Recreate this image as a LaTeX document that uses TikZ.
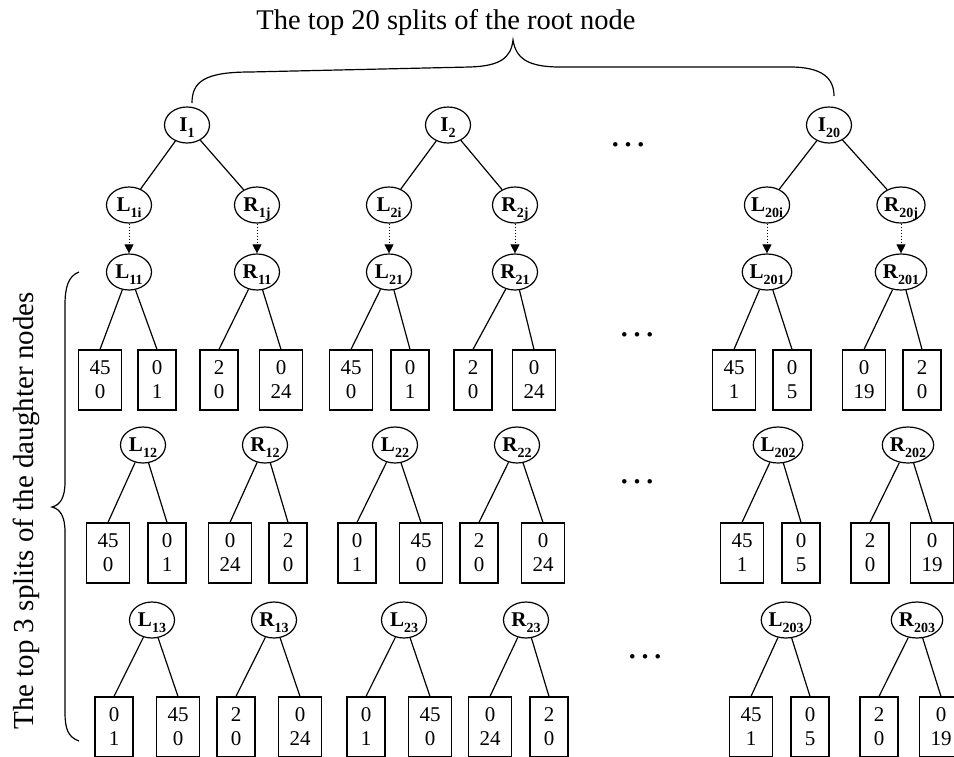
\documentclass[tikz,border=0pt]{standalone}
\usepackage{fontspec}
\setmainfont{Liberation Serif}
\usetikzlibrary{arrows.meta, shapes.geometric}
\newcommand{\splab}[2]{\textbf{#1}\raisebox{-6pt}[0pt][0pt]{\fontsize{14}{14}\selectfont\bfseries #2}}

\begin{document}
\begin{tikzpicture}[
    x=1pt, y=-1pt,
    line width=1.2pt,
    % Split nodes (ellipses)
    splitnode/.style={
      ellipse, draw, minimum width=45pt, minimum height=36pt,
      inner sep=0pt, font=\fontsize{21}{21}\selectfont
    },
    % Leaf boxes with class counts
    leafbox/.style={
      rectangle, draw, minimum width=38pt, minimum height=60pt,
      inner xsep=11pt, inner ysep=0pt, align=center,
      font=\fontsize{21}{24}\selectfont
    },
    % Dotted arrow from a daughter to its splits
    dotarr/.style={dotted, line width=1pt, -{Triangle[length=9pt, width=9pt]}},
    bigtext/.style={font=\fontsize{28.5}{32}\selectfont},
    dotsnode/.style={font=\fontsize{38}{38}\selectfont, inner sep=0pt}
  ]
  \useasboundingbox (0,0) rectangle (954,756);

  % ============ Root splits ============
  \node[bigtext] (title) at (446,22) {The top 20 splits of the root node};
  \node[splitnode] (I1) at (187,125) {\splab{I}{1}};
  \node[splitnode] (I2) at (448,125) {\splab{I}{2}};
  \node[splitnode] (I20) at (829,125) {\splab{I}{20}};
  \node[dotsnode] (dots0) at (628,145) {…};

  % brace over the root splits
  \draw (192,103) .. controls (192,82) and (204,72) .. (250,72)
    -- (470,67) .. controls (500,66) and (511,58) .. (513,40)
    .. controls (516,58) and (527,67) .. (560,67)
    -- (790,67) .. controls (822,67) and (834,78) .. (834,96);

  % ============ Daughter nodes ============
  \node[splitnode] (L1i) at (129,205) {\splab{L}{1i}};
  \node[splitnode] (R1i) at (257,205) {\splab{R}{1j}};
  \node[splitnode] (L2i) at (389,205) {\splab{L}{2i}};
  \node[splitnode] (R2i) at (515,205) {\splab{R}{2j}};
  \node[splitnode] (L20i) at (767,205) {\splab{L}{20i}};
  \node[splitnode] (R20i) at (901,205) {\splab{R}{20j}};
  \draw (I1) -- (L1i);  \draw (I1) -- (R1i);
  \draw (I2) -- (L2i);  \draw (I2) -- (R2i);
  \draw (I20) -- (L20i); \draw (I20) -- (R20i);

  % ============ First splits of the daughters ============
  \node[splitnode] (L11) at (129,272) {\splab{L}{11}};
  \node[splitnode] (R11) at (257,272) {\splab{R}{11}};
  \node[splitnode] (L21) at (389,272) {\splab{L}{21}};
  \node[splitnode] (R21) at (515,272) {\splab{R}{21}};
  \node[splitnode] (L201) at (767,272) {\splab{L}{201}};
  \node[splitnode] (R201) at (901,272) {\splab{R}{201}};
  \draw[dotarr] (L1i) -- (L11);
  \draw[dotarr] (R1i) -- (R11);
  \draw[dotarr] (L2i) -- (L21);
  \draw[dotarr] (R2i) -- (R21);
  \draw[dotarr] (L20i) -- (L201);
  \draw[dotarr] (R20i) -- (R201);

  \node[leafbox] (L11a) at (100,380) {45\\0};
  \node[leafbox] (L11b) at (157,380) {0\\1};
  \node[leafbox] (R11a) at (219,380) {2\\0};
  \node[leafbox] (R11b) at (281,380) {0\\24};
  \node[leafbox] (L21a) at (351,380) {45\\0};
  \node[leafbox] (L21b) at (410,380) {0\\1};
  \node[leafbox] (R21a) at (473,380) {2\\0};
  \node[leafbox] (R21b) at (534,380) {0\\24};
  \node[leafbox] (L201a) at (734,380) {45\\1};
  \node[leafbox] (L201b) at (792,380) {0\\5};
  \node[leafbox] (R201a) at (864,380) {0\\19};
  \node[leafbox] (R201b) at (922,380) {2\\0};
  \draw (L11) -- (L11a.north) (L11) -- (L11b.north);
  \draw (R11) -- (R11a.north) (R11) -- (R11b.north);
  \draw (L21) -- (L21a.north) (L21) -- (L21b.north);
  \draw (R21) -- (R21a.north) (R21) -- (R21b.north);
  \draw (L201) -- (L201a.north) (L201) -- (L201b.north);
  \draw (R201) -- (R201a.north) (R201) -- (R201b.north);
  \node[dotsnode] (dots1) at (637,335) {…};

  % ============ Second splits ============
  \node[splitnode] (L12) at (143,445) {\splab{L}{12}};
  \node[splitnode] (R12) at (265,445) {\splab{R}{12}};
  \node[splitnode] (L22) at (395,445) {\splab{L}{22}};
  \node[splitnode] (R22) at (517,445) {\splab{R}{22}};
  \node[splitnode] (L202) at (778,445) {\splab{L}{202}};
  \node[splitnode] (R202) at (908,445) {\splab{R}{202}};

  \node[leafbox] (L12a) at (108,553) {45\\0};
  \node[leafbox] (L12b) at (167,553) {0\\1};
  \node[leafbox] (R12a) at (230,553) {0\\24};
  \node[leafbox] (R12b) at (288,553) {2\\0};
  \node[leafbox] (L22a) at (357,553) {0\\1};
  \node[leafbox] (L22b) at (421,553) {45\\0};
  \node[leafbox] (R22a) at (479,553) {2\\0};
  \node[leafbox] (R22b) at (543,553) {0\\24};
  \node[leafbox] (L202a) at (742,553) {45\\1};
  \node[leafbox] (L202b) at (801,553) {0\\5};
  \node[leafbox] (R202a) at (870,553) {2\\0};
  \node[leafbox] (R202b) at (932,553) {0\\19};
  \draw (L12) -- (L12a.north) (L12) -- (L12b.north);
  \draw (R12) -- (R12a.north) (R12) -- (R12b.north);
  \draw (L22) -- (L22a.north) (L22) -- (L22b.north);
  \draw (R22) -- (R22a.north) (R22) -- (R22b.north);
  \draw (L202) -- (L202a.north) (L202) -- (L202b.north);
  \draw (R202) -- (R202a.north) (R202) -- (R202b.north);
  \node[dotsnode] (dots2) at (637,482) {…};

  % ============ Third splits ============
  \node[splitnode] (L13) at (152,620) {\splab{L}{13}};
  \node[splitnode] (R13) at (274,620) {\splab{R}{13}};
  \node[splitnode] (L23) at (404,620) {\splab{L}{23}};
  \node[splitnode] (R23) at (526,620) {\splab{R}{23}};
  \node[splitnode] (L203) at (786,620) {\splab{L}{203}};
  \node[splitnode] (R203) at (917,620) {\splab{R}{203}};

  \node[leafbox] (L13a) at (114,727) {0\\1};
  \node[leafbox] (L13b) at (178,727) {45\\0};
  \node[leafbox] (R13a) at (236,727) {2\\0};
  \node[leafbox] (R13b) at (300,727) {0\\24};
  \node[leafbox] (L23a) at (366,727) {0\\1};
  \node[leafbox] (L23b) at (430,727) {45\\0};
  \node[leafbox] (R23a) at (490,727) {0\\24};
  \node[leafbox] (R23b) at (549,727) {2\\0};
  \node[leafbox] (L203a) at (751,727) {45\\1};
  \node[leafbox] (L203b) at (810,727) {0\\5};
  \node[leafbox] (R203a) at (879,727) {2\\0};
  \node[leafbox] (R203b) at (941,727) {0\\19};
  \draw (L13) -- (L13a.north) (L13) -- (L13b.north);
  \draw (R13) -- (R13a.north) (R13) -- (R13b.north);
  \draw (L23) -- (L23a.north) (L23) -- (L23b.north);
  \draw (R23) -- (R23a.north) (R23) -- (R23b.north);
  \draw (L203) -- (L203a.north) (L203) -- (L203b.north);
  \draw (R203) -- (R203a.north) (R203) -- (R203b.north);
  \node[dotsnode] (dots3) at (645,657) {…};

  % ============ Brace over the daughter splits ============
  \draw (79,272) .. controls (68,276) and (65,288) .. (65,305)
    -- (65,482) .. controls (65,498) and (60,505) .. (52,507)
    .. controls (60,509) and (65,516) .. (65,532)
    -- (65,712) .. controls (65,729) and (68,737) .. (79,741);
  \node[bigtext, font=\fontsize{29}{32}\selectfont, rotate=90] (sidetext) at (26,511) {The top 3 splits of the daughter nodes};

\end{tikzpicture}
\end{document}
